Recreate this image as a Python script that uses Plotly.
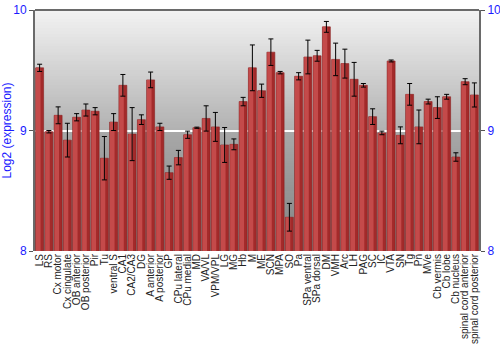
import plotly.graph_objects as go

regions = ["LS", "RS", "Cx motor", "Cx cingulate", "OB anterior", "OB posterior", "Pir", "Tu",
           "ventral S", "CA1", "CA2/CA3", "DG", "A anterior", "A posterior", "GP", "CPu lateral",
           "CPu medial", "MD", "VA/VL", "VPM/VPL", "LG", "MG", "Hb", "M", "ME", "SCN", "MPA", "SO",
           "Pa", "SPa ventral", "SPa dorsal", "DM", "VMH", "Arc", "LH", "PAG", "SC", "IC", "VTA",
           "SN", "Tg", "Pn", "MVe", "Cb vermis", "Cb lobe", "Cb nucleus",
           "spinal cord anterior", "spinal cord posterior"]
expression = [9.52, 8.99, 9.126, 8.92, 9.11, 9.17, 9.16, 8.77,
              9.07, 9.375, 8.97, 9.09, 9.42, 9.03, 8.65, 8.775,
              8.965, 9.023, 9.10, 9.03, 8.88, 8.885, 9.24, 9.52, 9.33, 9.65, 9.48, 8.28,
              9.45, 9.61, 9.62, 9.86, 9.59, 9.555, 9.425, 9.375, 9.115, 8.98, 9.577,
              8.96, 9.30, 9.03, 9.24, 9.19, 9.28, 8.78,
              9.405, 9.295]
error = [0.03, 0.01, 0.07, 0.14, 0.03, 0.05, 0.03, 0.18,
         0.07, 0.09, 0.22, 0.04, 0.065, 0.03, 0.055, 0.06,
         0.03, 0.005, 0.105, 0.12, 0.145, 0.045, 0.035, 0.19, 0.055, 0.11, 0.01, 0.115,
         0.03, 0.14, 0.045, 0.045, 0.135, 0.12, 0.14, 0.015, 0.065, 0.015, 0.008,
         0.07, 0.09, 0.14, 0.02, 0.09, 0.02, 0.035,
         0.025, 0.10]
y_ticks = [8, 9, 10]

FONT = "Liberation Sans, Arial, sans-serif"
BLUE = "#1a1aff"

fig = go.Figure()

# main bars (darker red)
fig.add_trace(go.Bar(x=regions, y=expression, base=0, width=0.86,
                     marker=dict(color="#a32a2a", line=dict(color="#8a2020", width=0.6)),
                     hoverinfo="skip", showlegend=False))
# lighter highlight on left part of each bar
fig.add_trace(go.Bar(x=regions, y=expression, base=0, width=0.5, offset=-0.40,
                     marker=dict(color="#c44a4a", line=dict(width=0)),
                     hoverinfo="skip", showlegend=False))
# error bars
fig.add_trace(go.Scatter(x=regions, y=expression, mode="markers",
                         marker=dict(size=1, opacity=0),
                         error_y=dict(type="data", array=error, color="black",
                                      thickness=1, width=2.5),
                         showlegend=False, hoverinfo="skip"))
# invisible trace for right axis
fig.add_trace(go.Scatter(x=[regions[0]], y=[9], yaxis="y2", mode="markers",
                         marker=dict(opacity=0), showlegend=False, hoverinfo="skip"))

# background gradient strips
shapes = []
n = 40
def lerp(a, b, t):
    return int(round(a + (b - a) * t))
for i in range(n):
    t = i / (n - 1)
    c = lerp(242, 178, t)
    shapes.append(dict(type="rect", xref="paper", yref="y", x0=0, x1=1,
                       y0=10 - i / n, y1=max(9, 10 - (i + 1) / n - 0.01), layer="below",
                       fillcolor=f"rgb({c},{c},{c})", line=dict(width=0)))
for i in range(n):
    t = i / (n - 1)
    c = lerp(168, 130, t)
    shapes.append(dict(type="rect", xref="paper", yref="y", x0=0, x1=1,
                       y0=9 - i / n, y1=max(8, 9 - (i + 1) / n - 0.01), layer="below",
                       fillcolor=f"rgb({c},{c},{c})", line=dict(width=0)))

fig.update_layout(
    width=500, height=350,
    margin=dict(l=35, r=21, t=10, b=99),
    paper_bgcolor="white", plot_bgcolor="white",
    barmode="overlay", bargap=0.1,
    shapes=shapes,
    font=dict(family=FONT, size=10, color="black"),
    xaxis=dict(tickangle=-90, tickfont=dict(size=10, color="#222"), showgrid=False,
               tickmode="array", tickvals=regions, ticktext=regions,
               ticks="", showline=False, range=[-0.5, len(regions) - 0.5], automargin=False),
    yaxis=dict(range=[8, 10], tickvals=y_ticks, ticks="outside", ticklen=4,
               tickcolor="#555", tickfont=dict(size=12, color=BLUE),
               showline=True, linecolor="#6a6a6a", linewidth=2, automargin=False,
               showgrid=True, gridcolor="white", gridwidth=1.5, zeroline=False,
               title=dict(text="Log2 (expression)", font=dict(size=12, color=BLUE), standoff=4),
               layer="above traces"),
    yaxis2=dict(range=[8, 10], tickvals=y_ticks, overlaying="y", side="right",
                ticks="outside", ticklen=4, tickcolor="#555", automargin=False,
                tickfont=dict(size=12, color=BLUE), showline=True, linecolor="#6a6a6a",
                linewidth=2, showgrid=False, zeroline=False),
)
fig.add_shape(type="line", xref="paper", yref="paper", x0=0, x1=1, y0=1, y1=1,
              line=dict(color="#6a6a6a", width=2))

fig.write_html("out.html")
